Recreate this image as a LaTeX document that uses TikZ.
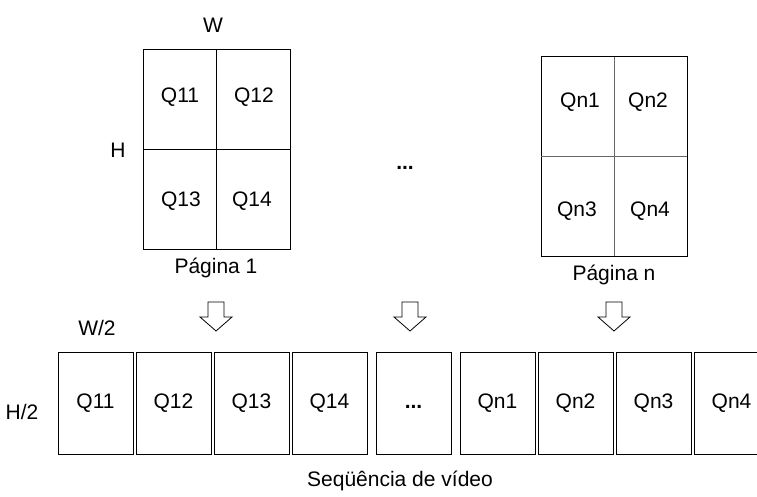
\documentclass[tikz,border=0pt]{standalone}
\usepackage{fontspec}
\setmainfont{Liberation Sans}
\usetikzlibrary{positioning}

\begin{document}
\begin{tikzpicture}[x=1pt,y=-1pt,
  node distance=3pt,
  every node/.style={font=\fontsize{21}{25}\selectfont},
  page/.style={draw,line width=1pt,minimum width=147pt,minimum height=199pt,
               inner sep=0pt,outer sep=0pt},
  frame/.style={draw,line width=0.9pt,minimum width=75pt,minimum height=102pt,
                inner sep=0pt,outer sep=0pt},
  blockarrow/.pic={\draw[line width=0.8pt,fill=white] (-8,0) -- (8,0) -- (8,15)
                   -- (16,15) -- (0,29) -- (-16,15) -- (-8,15) -- cycle;}]
\useasboundingbox (0,0) rectangle (757,497);
% first page, split into four quadrants
\node[page] (page1) at (216.5,149.5) {};
\draw[line width=0.8pt] (page1.north) -- (page1.south);
\draw[line width=0.8pt] (page1.west) -- (page1.east);
\node (q11) at (180,97) {Q11};
\node (q12) at (254,97) {Q12};
\node (q13) at (181,201) {Q13};
\node (q14) at (252,201) {Q14};
\node (w) at (213,25) {W};
\node (h) at (118,150) {H};
\node (cap1) at (216,268) {Página 1};
% last page
\node[page,minimum width=146pt] (pagen) at (614,156.5) {};
\draw[line width=0.8pt,black!60] (pagen.north) -- (pagen.south);
\draw[line width=0.8pt,black!60] (pagen.west) -- (pagen.east);
\node (qn1) at (580,102) {Qn1};
\node (qn2) at (648,102) {Qn2};
\node (qn3) at (577,211) {Qn3};
\node (qn4) at (650,211) {Qn4};
\node (capn) at (614,275) {Página n};
\node (dots) at (405,164) {\vphantom{Q}\textbf{...}};
% arrows down to the sequence
\pic at (216,302) {blockarrow};
\pic at (410,302) {blockarrow};
\pic at (614,302) {blockarrow};
% video sequence
\node[frame] (f1) at (95.5,403) {Q11};
\node[frame,right=of f1] (f2) {Q12};
\node[frame,right=of f2] (f3) {Q13};
\node[frame,right=of f3] (f4) {Q14};
\node[frame,right=9pt of f4] (f5) {\vphantom{Q}\textbf{...}};
\node[frame,right=9pt of f5] (f6) {Qn1};
\node[frame,right=of f6] (f7) {Qn2};
\node[frame,right=of f7] (f8) {Qn3};
\node[frame,right=of f8] (f9) {Qn4};
\node (w2) at (97,328) {W/2};
\node (h2) at (22,412) {H/2};
\node (seq) at (400,481) {Seqüência de vídeo};
\end{tikzpicture}
\end{document}
